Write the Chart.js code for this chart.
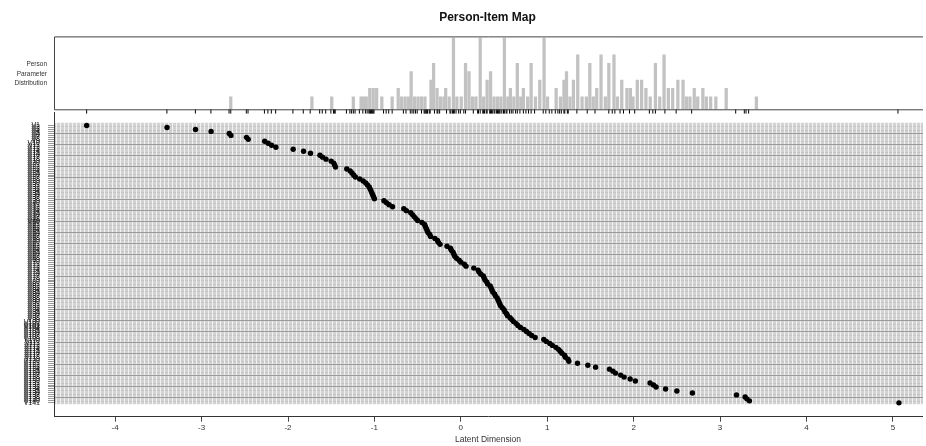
<!DOCTYPE html>
<html>
<head>
<meta charset="utf-8">
<script src="https://cdn.jsdelivr.net/npm/chart.js@4"></script>
<style>
  html, body { margin: 0; padding: 0; background: #fff; overflow: hidden; }
  #wrap { position: relative; width: 926px; height: 446px; }
  canvas { position: absolute; left: 0; }
  #dist { top: 0; }
  #map { top: 100px; }
</style>
</head>
<body>
<div id="wrap">
  <canvas id="dist" width="926" height="118"></canvas>
  <canvas id="map" width="926" height="346"></canvas>
</div>
<script>
// item locations (logits), top item first
const items = [
  -4.33, -3.40, -3.07, -2.89, -2.68, -2.66, -2.48, -2.46, -2.27, -2.23,
  -2.19, -2.14, -1.94, -1.82, -1.74, -1.63, -1.60, -1.56, -1.50, -1.47,
  -1.46, -1.45, -1.32, -1.28, -1.26, -1.24, -1.22, -1.17, -1.13, -1.10,
  -1.08, -1.06, -1.05, -1.04, -1.03, -1.02, -1.01, -1.00, -0.89, -0.86,
  -0.83, -0.79, -0.66, -0.63, -0.58, -0.56, -0.54, -0.52, -0.50, -0.45,
  -0.42, -0.41, -0.40, -0.39, -0.38, -0.36, -0.35, -0.30, -0.27, -0.26,
  -0.24, -0.16, -0.12, -0.11, -0.09, -0.08, -0.07, -0.05, -0.02, 0.00,
  0.04, 0.06, 0.15, 0.20, 0.21, 0.23, 0.26, 0.27, 0.28, 0.30,
  0.31, 0.34, 0.35, 0.36, 0.37, 0.39, 0.40, 0.42, 0.43, 0.44,
  0.45, 0.46, 0.48, 0.50, 0.51, 0.53, 0.54, 0.57, 0.59, 0.61,
  0.64, 0.66, 0.69, 0.73, 0.76, 0.79, 0.82, 0.86, 0.96, 0.99,
  1.03, 1.06, 1.10, 1.13, 1.15, 1.17, 1.20, 1.21, 1.24, 1.25,
  1.35, 1.47, 1.56, 1.72, 1.76, 1.79, 1.85, 1.89, 1.96, 2.02,
  2.19, 2.23, 2.26, 2.37, 2.50, 2.68, 3.19, 3.29, 3.31, 3.34,
  5.07
];
const itemNames = items.map((v, i) => 'V' + (i + 1));

// person parameter histogram: bin centre and count
const personLoc = [
  -2.66, -1.72, -1.49, -1.24, -1.15, -1.12, -1.09, -1.05, -1.01, -0.97,
  -0.91, -0.79, -0.72, -0.68, -0.64, -0.60, -0.57, -0.53, -0.49, -0.45,
  -0.41, -0.34, -0.31, -0.27, -0.23, -0.19, -0.17, -0.13, -0.08, -0.04,
  0.01, 0.06, 0.10, 0.14, 0.18, 0.23, 0.27, 0.31, 0.35, 0.39,
  0.43, 0.47, 0.51, 0.55, 0.58, 0.62, 0.66, 0.70, 0.73, 0.78,
  0.82, 0.87, 0.92, 0.97, 1.01, 1.11, 1.16, 1.20, 1.23, 1.27,
  1.31, 1.36, 1.41, 1.46, 1.50, 1.54, 1.58, 1.63, 1.68, 1.72,
  1.78, 1.82, 1.87, 1.93, 1.97, 2.00, 2.05, 2.10, 2.15, 2.20,
  2.26, 2.31, 2.36, 2.41, 2.46, 2.52, 2.58, 2.62, 2.66, 2.71,
  2.75, 2.81, 2.85, 2.90, 2.96, 3.08, 3.43
];
const personCount = [
  1, 1, 1, 1, 1, 1, 1, 2, 2, 2,
  1, 1, 2, 1, 1, 1, 4, 1, 1, 1,
  1, 3, 5, 2, 1, 1, 2, 1, 8, 1,
  1, 5, 4, 1, 1, 8, 1, 3, 4, 1,
  1, 1, 8, 1, 2, 1, 5, 1, 2, 1,
  5, 1, 3, 8, 1, 2, 1, 3, 4, 1,
  3, 6, 1, 1, 5, 1, 2, 6, 1, 5,
  6, 1, 3, 2, 2, 1, 3, 3, 2, 1,
  5, 1, 6, 2, 2, 3, 3, 1, 1, 2,
  1, 2, 1, 1, 1, 2, 1
];

const xTicks = [-4, -3, -2, -1, 0, 1, 2, 3, 4, 5];
const xMin = -4.708, xMax = 5.337;

Chart.defaults.font.family = '"Liberation Sans", Arial, sans-serif';
Chart.defaults.animation = false;

// box round the distribution panel + its side label
const distFrame = {
  id: 'distFrame',
  afterDraw(chart) {
    const { ctx, chartArea: a } = chart;
    ctx.save();
    ctx.strokeStyle = '#444';
    ctx.lineWidth = 1;
    ctx.beginPath();
    ctx.moveTo(a.right + 2, a.top + 0.5);
    ctx.lineTo(a.left + 0.5, a.top + 0.5);
    ctx.lineTo(a.left + 0.5, a.bottom + 0.5);
    ctx.lineTo(a.right + 2, a.bottom + 0.5);
    ctx.stroke();
    ctx.fillStyle = '#333';
    ctx.font = '6.5px "Liberation Sans", Arial, sans-serif';
    ctx.textAlign = 'right';
    ctx.textBaseline = 'middle';
    ['Person', 'Parameter', 'Distribution'].forEach((t, i) => ctx.fillText(t, 47, 64.5 + i * 9.4));
    ctx.restore();
  }
};

// dense grey item grid behind the points
const tile = document.createElement('canvas');
tile.width = 4; tile.height = 11;
const tctx = tile.getContext('2d');
tctx.fillStyle = '#d3d3d3'; tctx.fillRect(0, 0, 4, 11);
tctx.fillStyle = '#c4c4c4'; tctx.fillRect(0, 4, 4, 1); tctx.fillRect(0, 8, 4, 1);
tctx.fillStyle = '#f2f2f2'; tctx.fillRect(0, 0, 1, 11);
tctx.fillStyle = '#9a9a9a'; tctx.fillRect(0, 0, 4, 1);

const gridFill = {
  id: 'gridFill',
  beforeDatasetsDraw(chart) {
    const { ctx, chartArea: a, scales: { y } } = chart;
    const top = y.getPixelForValue(-1.3);
    const bottom = y.getPixelForValue(items.length - 0.3);
    ctx.save();
    ctx.fillStyle = ctx.createPattern(tile, 'repeat');
    ctx.fillRect(a.left + 1, top, a.right - a.left, bottom - top);
    ctx.restore();
  }
};

new Chart(document.getElementById('dist'), {
  type: 'bar',
  data: {
    datasets: [{
      type: 'bar',
      data: personLoc.map((x, i) => ({ x: x, y: personCount[i] })),
      backgroundColor: '#c2c2c2',
      borderWidth: 0,
      barThickness: 2.6,
      base: -0.5
    }, {
      type: 'scatter',
      data: items.map(x => ({ x: x, y: -0.75 })),
      pointStyle: 'line',
      rotation: 90,
      radius: 2.2,
      borderColor: '#000',
      borderWidth: 1,
      clip: false
    }]
  },
  options: {
    responsive: false,
    layout: { padding: { left: 54, right: 0, top: 0, bottom: 8.7 } },
    plugins: {
      legend: { display: false },
      tooltip: { enabled: false },
      title: {
        display: true,
        text: 'Person-Item Map',
        fullSize: false,
        color: '#111',
        font: { size: 12, weight: 'bold' },
        padding: { top: 10, bottom: 12 }
      }
    },
    scales: {
      x: { type: 'linear', min: xMin, max: xMax, offset: false, display: false },
      y: { min: -0.5, max: 8.2, display: false }
    }
  },
  plugins: [distFrame]
});

new Chart(document.getElementById('map'), {
  type: 'scatter',
  data: {
    datasets: [{
      data: items.map((x, i) => ({ x: x, y: i })),
      backgroundColor: '#000',
      borderWidth: 0,
      pointRadius: 2.7
    }]
  },
  options: {
    responsive: false,
    layout: { padding: 0 },
    plugins: { legend: { display: false }, tooltip: { enabled: false } },
    scales: {
      x: {
        type: 'linear',
        min: xMin,
        max: xMax,
        afterBuildTicks: s => { s.ticks = xTicks.map(v => ({ value: v })); },
        afterFit: s => { s.height = 29.3; },
        ticks: { color: '#333', font: { size: 8 }, padding: 1, callback: v => String(v) },
        grid: { drawOnChartArea: false, drawTicks: true, tickLength: 5, color: '#444' },
        border: { display: true, color: '#333' },
        title: { display: true, text: 'Latent Dimension', color: '#333', font: { size: 8.5 }, padding: { top: 0, bottom: 1 } }
      },
      y: {
        type: 'linear',
        reverse: true,
        min: -6.7,
        max: 147,
        afterBuildTicks: s => { s.ticks = itemNames.map((n, i) => ({ value: i })); },
        afterFit: s => { s.width = 54; },
        ticks: { autoSkip: false, color: '#111', font: { size: 7 }, padding: 8, callback: v => itemNames[v] || '' },
        grid: { drawOnChartArea: false, drawTicks: true, tickLength: 6, color: '#999' },
        border: { display: true, color: '#333' }
      }
    }
  },
  plugins: [gridFill]
});
</script>
</body>
</html>
